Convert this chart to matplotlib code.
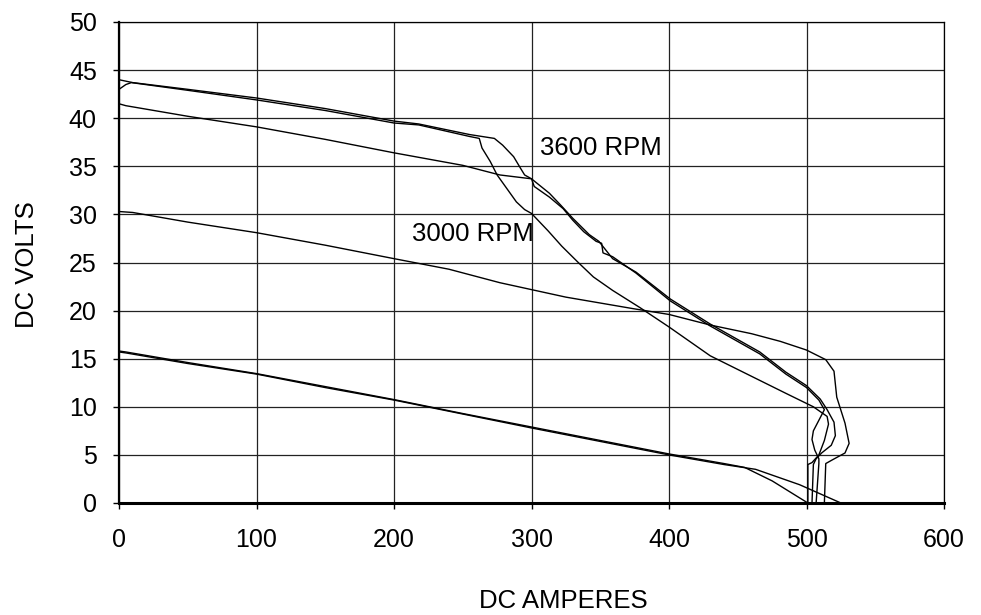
# Generator output curves: DC volts vs DC amperes

import matplotlib
matplotlib.use("Agg")
import matplotlib.pyplot as plt

plt.rcParams['font.family'] = ['Liberation Sans', 'DejaVu Sans']

# 3600 RPM, run a
amps_3600a = [0, 10, 50, 100, 150, 200, 218, 255, 273, 279, 287, 292, 295, 300, 313, 321,
              330, 342, 349, 359, 376, 401, 430, 466, 485, 500, 510, 515, 520, 521, 518,
              511, 507, 505, 504]
volts_3600a = [44.0, 43.7, 43.0, 42.1, 41.0, 39.7, 39.4, 38.3, 37.9, 37.2, 36.0, 34.8, 34.1,
               33.7, 32.2, 31.0, 29.6, 27.9, 27.2, 25.4, 24.0, 21.2, 18.6, 15.7, 13.6, 12.2,
               10.8, 9.7, 8.4, 7.0, 6.0, 5.2, 4.6, 4.0, 0]

# 3600 RPM, run b
amps_3600b = [0, 5, 9, 50, 100, 150, 200, 218, 255, 262, 264, 270, 275, 282, 289, 295, 300,
              312, 322, 334, 345, 359, 379, 400, 430, 461, 485, 505, 515, 516, 513, 509,
              504, 501, 501]
volts_3600b = [43.0, 43.5, 43.7, 42.9, 41.9, 40.8, 39.5, 39.3, 38.1, 37.9, 36.9, 35.5, 34.1,
               32.7, 31.3, 30.5, 30.1, 28.3, 26.7, 25.0, 23.5, 22.1, 20.3, 18.3, 15.3, 13.1,
               11.4, 10.0, 9.0, 8.2, 6.5, 5.0, 4.2, 4.0, 0]

# 3000 RPM
amps_3000 = [0, 5, 50, 100, 150, 200, 250, 277, 300, 302, 313, 323, 330, 338, 347, 351, 352,
             359, 364, 376, 401, 430, 466, 485, 500, 509, 513, 509, 505, 504, 506, 509, 509, 507]
volts_3000 = [41.5, 41.3, 40.2, 39.1, 37.8, 36.4, 35.1, 34.1, 33.7, 32.9, 31.8, 30.6, 29.4,
              28.2, 27.2, 27.0, 26.0, 25.6, 25.1, 23.9, 21.0, 18.4, 15.5, 13.4, 12.0, 10.7,
              9.7, 8.6, 7.5, 6.6, 5.5, 4.6, 4.1, 0]

# 30 V curve
amps_30v = [0, 10, 50, 100, 150, 200, 240, 277, 325, 374, 400, 430, 460, 481, 500, 514, 520,
            522, 528, 531, 528, 519, 514, 513]
volts_30v = [30.3, 30.2, 29.2, 28.1, 26.8, 25.4, 24.3, 22.9, 21.4, 20.2, 19.6, 18.5, 17.6,
             16.8, 15.9, 14.9, 13.7, 11.0, 8.3, 6.2, 5.2, 4.5, 4.1, 0]

# 15 V curves (two runs)
amps_15a = [0, 5, 50, 100, 150, 200, 250, 300, 350, 400, 440, 455, 475, 501]
volts_15a = [15.8, 15.7, 14.6, 13.45, 12.1, 10.75, 9.3, 7.9, 6.5, 5.1, 4.1, 3.7, 2.3, 0]
amps_15b = [0, 5, 50, 100, 150, 200, 250, 300, 350, 400, 440, 463, 495, 525]
volts_15b = [15.7, 15.6, 14.5, 13.4, 12.0, 10.7, 9.25, 7.8, 6.4, 5.0, 4.0, 3.5, 1.9, 0]

x_ticks = [0, 100, 200, 300, 400, 500, 600]
y_ticks = [0, 5, 10, 15, 20, 25, 30, 35, 40, 45, 50]

fig = plt.figure(figsize=(9.81, 6.15), dpi=100)
ax = fig.add_axes([119 / 981, 1 - 503 / 615, 825 / 981, 481 / 615])

curves = [(amps_3600a, volts_3600a), (amps_3600b, volts_3600b), (amps_3000, volts_3000),
          (amps_30v, volts_30v), (amps_15a, volts_15a), (amps_15b, volts_15b)]
for a, v in curves:
    ax.plot(a, v, color='black', lw=1.0)

ax.set_xlim(0, 600)
ax.set_ylim(0, 50)
ax.set_xticks(x_ticks)
ax.set_yticks(y_ticks)
ax.grid(True, color='#222222', lw=0.9)
ax.set_axisbelow(True)

ax.tick_params(direction='out', length=4, width=1, colors='black', labelsize=18)
ax.tick_params(axis='x', pad=14)
ax.tick_params(axis='y', pad=12)

for s in ['top', 'right']:
    ax.spines[s].set_linewidth(0.9)
ax.spines['bottom'].set_linewidth(2.2)
ax.spines['left'].set_linewidth(1.6)

ax.text(306, 36.9, '3600 RPM', fontsize=18.5, va='center', ha='left')
ax.text(213, 28.0, '3000 RPM', fontsize=18.5, va='center', ha='left')

fig.text(563 / 981, 1 - 601 / 615, 'DC AMPERES', fontsize=18.5, ha='center', va='center')
fig.text(27 / 981, 1 - 265 / 615, 'DC VOLTS', fontsize=18.5, ha='center', va='center', rotation=90)

fig.savefig('out.png', dpi=100)
